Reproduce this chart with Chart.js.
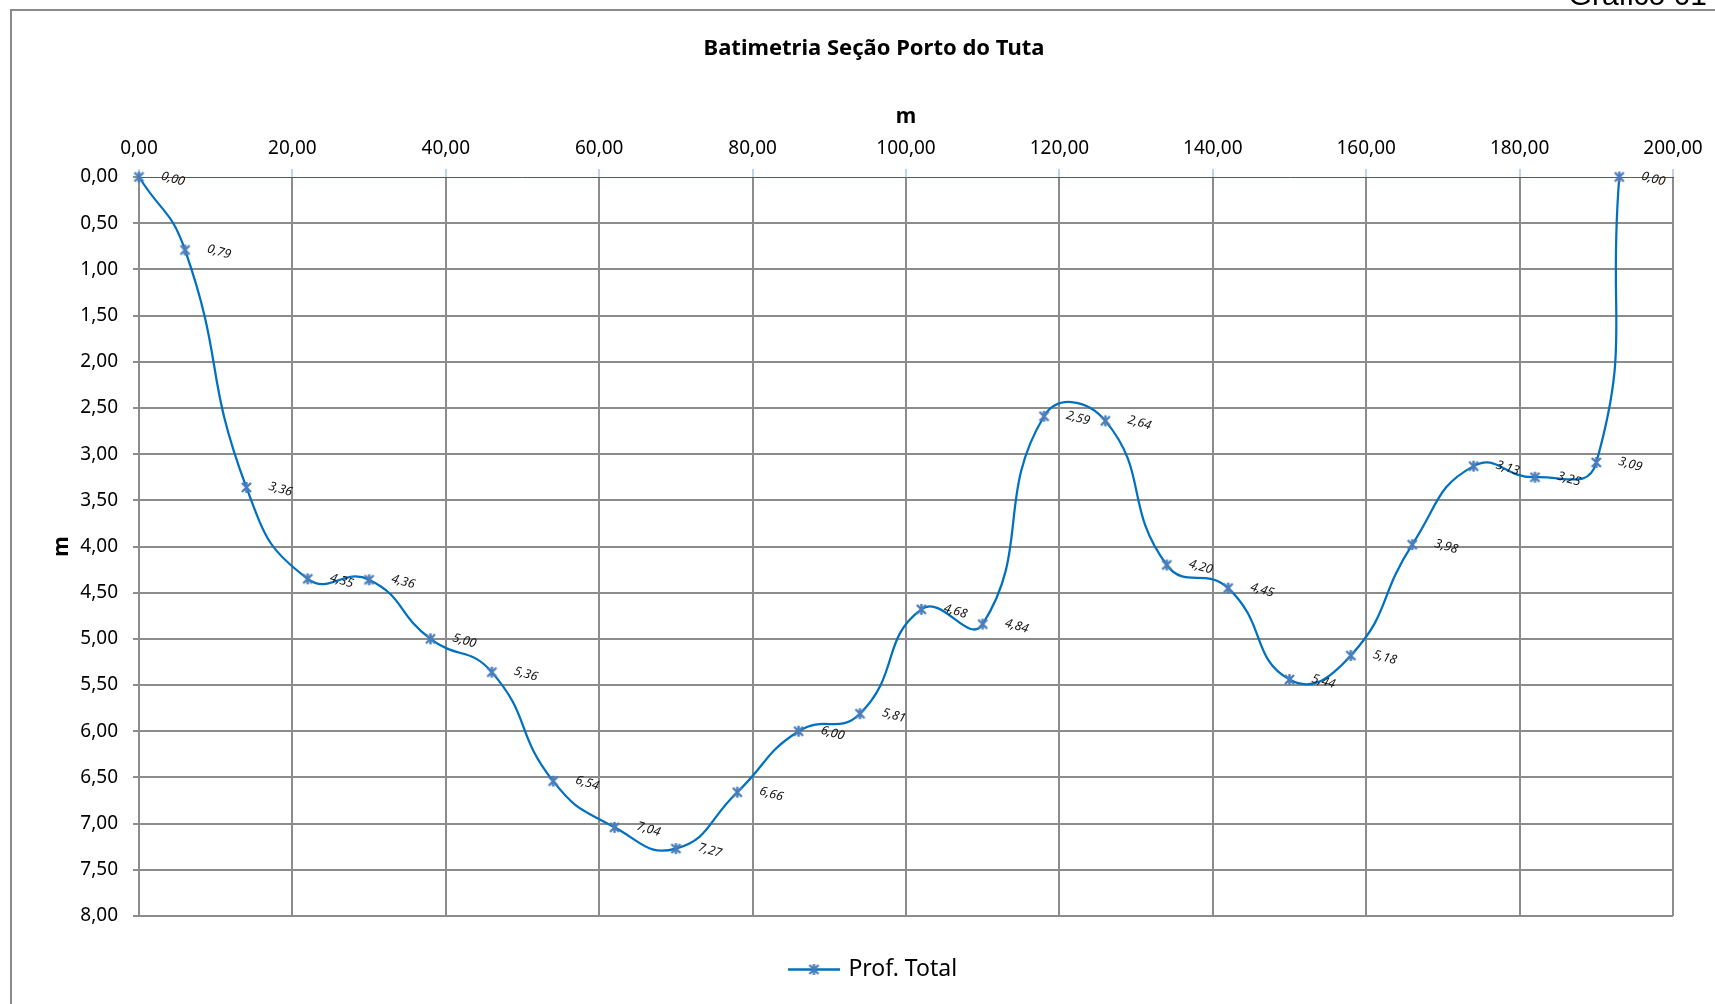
<!DOCTYPE html>
<html lang="pt-BR">
<head>
<meta charset="utf-8">
<title>Batimetria Seção Porto do Tuta</title>
<script src="https://cdn.jsdelivr.net/npm/chart.js@4.4.1/dist/chart.umd.min.js"></script>
<style>
  html, body { margin: 0; padding: 0; background: #ffffff; }
  #wrap { width: 1715px; height: 1004px; position: relative; }
</style>
</head>
<body>
<div id="wrap"><canvas id="chart" width="1715" height="1004"></canvas></div>
<script>
// Distância ao longo da seção (m)
const distances = [0, 6, 14, 22, 30, 38, 46, 54, 62, 70, 78, 86, 94, 102, 110, 118, 126, 134, 142, 150, 158, 166, 174, 182, 190, 193];
// Profundidade total medida em cada vertical (m)
const depths = [0.00, 0.79, 3.36, 4.35, 4.36, 5.00, 5.36, 6.54, 7.04, 7.27, 6.66, 6.00, 5.81, 4.68, 4.84, 2.59, 2.64, 4.20, 4.45, 5.44, 5.18, 3.98, 3.13, 3.25, 3.09, 0.00];
// Rótulos dos eixos
const xTickValues = [0, 20, 40, 60, 80, 100, 120, 140, 160, 180, 200];
const xTickLabels = ['0,00', '20,00', '40,00', '60,00', '80,00', '100,00', '120,00', '140,00', '160,00', '180,00', '200,00'];
const yTickValues = [0, 0.5, 1, 1.5, 2, 2.5, 3, 3.5, 4, 4.5, 5, 5.5, 6, 6.5, 7, 7.5, 8];
const yTickLabels = ['0,00', '0,50', '1,00', '1,50', '2,00', '2,50', '3,00', '3,50', '4,00', '4,50', '5,00', '5,50', '6,00', '6,50', '7,00', '7,50', '8,00'];
const seriesName = 'Prof. Total';
const chartTitle = 'Batimetria Seção Porto do Tuta';
const cornerText = 'Gráfico 01';

const fmt = v => v.toFixed(2).replace('.', ',');
const labelFor = (values, labels, v) => {
  const i = values.findIndex(t => Math.abs(t - v) < 1e-9);
  return i >= 0 ? labels[i] : '';
};

const LINE = '#0070c0';
const MARK = '#4a7ebb';
const GRID = '#8c8c8c';
const FONT = '"Noto Sans", "Open Sans", sans-serif';

// Marcador em forma de asterisco
function makeStar(size) {
  const c = document.createElement('canvas');
  c.width = size; c.height = size;
  const g = c.getContext('2d');
  const m = size / 2, r = size / 2 - 1;
  g.strokeStyle = MARK;
  g.lineWidth = 2.4;
  g.lineCap = 'butt';
  g.beginPath();
  g.moveTo(m - r * 0.82, m - r * 0.82); g.lineTo(m + r * 0.82, m + r * 0.82);
  g.moveTo(m + r * 0.82, m - r * 0.82); g.lineTo(m - r * 0.82, m + r * 0.82);
  g.moveTo(m, m - r); g.lineTo(m, m + r);
  g.stroke();
  return c;
}
const starMarker = makeStar(13);

// Amostra da legenda: linha com o marcador ao centro
function makeLegendSwatch(w, h) {
  const c = document.createElement('canvas');
  c.width = w; c.height = h;
  const g = c.getContext('2d');
  g.strokeStyle = LINE;
  g.lineWidth = 2.5;
  g.beginPath();
  g.moveTo(0, h / 2); g.lineTo(w, h / 2);
  g.stroke();
  g.drawImage(starMarker, (w - starMarker.width) / 2, (h - starMarker.height) / 2);
  return c;
}
const legendSwatch = makeLegendSwatch(52, 13);

const points = distances.map((x, i) => ({ x: x, y: depths[i] }));

// Moldura e texto do canto
const framePlugin = {
  id: 'frame',
  beforeDraw(chart) {
    const ctx = chart.ctx;
    ctx.save();
    ctx.fillStyle = '#ffffff';
    ctx.fillRect(0, 0, chart.width, chart.height);
    ctx.strokeStyle = '#8a8a8a';
    ctx.lineWidth = 2;
    ctx.strokeRect(11, 10, chart.width + 100, chart.height + 100);
    ctx.fillStyle = '#000000';
    ctx.font = '30px "Liberation Sans", Arial, sans-serif';
    ctx.textAlign = 'right';
    ctx.textBaseline = 'alphabetic';
    ctx.fillText(cornerText, 1707, 5);
    ctx.restore();
  }
};

// Rótulos de valor inclinados ao lado de cada ponto
const valueLabels = {
  id: 'valueLabels',
  afterDatasetsDraw(chart) {
    const ctx = chart.ctx;
    const meta = chart.getDatasetMeta(0);
    const values = chart.data.datasets[0].data;
    ctx.save();
    ctx.fillStyle = '#111111';
    ctx.font = 'italic 12.5px ' + FONT;
    ctx.textAlign = 'center';
    ctx.textBaseline = 'middle';
    meta.data.forEach((el, i) => {
      ctx.save();
      ctx.translate(el.x + 34, el.y + 2);
      ctx.rotate(16 * Math.PI / 180);
      ctx.fillText(fmt(values[i].y), 0, 0);
      ctx.restore();
    });
    ctx.restore();
  }
};

new Chart(document.getElementById('chart'), {
  type: 'line',
  data: {
    datasets: [{
      label: seriesName,
      data: points,
      borderColor: LINE,
      backgroundColor: LINE,
      borderWidth: 2.25,
      tension: 0.5,
      fill: false,
      clip: false,
      pointStyle: starMarker,
      pointRadius: 5,
      pointHoverRadius: 5
    }]
  },
  options: {
    responsive: false,
    devicePixelRatio: 1,
    animation: false,
    events: [],
    layout: { padding: { left: 33, right: 0, top: 0, bottom: 13 } },
    plugins: {
      title: {
        display: true,
        text: chartTitle,
        color: '#000000',
        font: { family: FONT, size: 22, weight: 'bold', lineHeight: 1.2 },
        padding: { top: 36, bottom: 0 }
      },
      legend: {
        display: true,
        position: 'bottom',
        title: { display: true, text: '', font: { size: 10, lineHeight: 1 }, padding: { top: 22, bottom: 0 } },
        labels: {
          usePointStyle: true,
          pointStyleWidth: 46,
          padding: 10,
          color: '#000000',
          font: { family: FONT, size: 23 },
          generateLabels(chart) {
            return chart.data.datasets.map((ds, i) => ({
              text: ds.label,
              fontColor: '#000000',
              pointStyle: legendSwatch,
              fillStyle: LINE,
              strokeStyle: LINE,
              lineWidth: 0,
              hidden: false,
              datasetIndex: i
            }));
          }
        }
      },
      tooltip: { enabled: false }
    },
    scales: {
      x: {
        type: 'linear',
        position: 'top',
        min: 0,
        max: 200,
        afterFit(scale) { scale.height = 114.6; scale.paddingRight = 42; },
        ticks: {
          stepSize: 20,
          padding: 9,
          color: '#000000',
          font: { family: FONT, size: 19 },
          callback: v => labelFor(xTickValues, xTickLabels, v)
        },
        grid: {
          color: GRID,
          lineWidth: 2,
          drawTicks: true,
          tickLength: 8,
          tickColor: '#7fa9d8',
          tickWidth: 1
        },
        border: { display: true, color: LINE, width: 1 },
        title: {
          display: true,
          text: 'm',
          color: '#000000',
          font: { family: FONT, size: 21, weight: 'bold', lineHeight: 1.2 },
          padding: { top: 42, bottom: 0 }
        }
      },
      y: {
        type: 'linear',
        position: 'left',
        reverse: true,
        min: 0,
        max: 8,
        afterFit(scale) { scale.width = 106; },
        ticks: {
          stepSize: 0.5,
          padding: 15,
          color: '#000000',
          font: { family: FONT, size: 19 },
          callback: v => labelFor(yTickValues, yTickLabels, v)
        },
        grid: {
          color: ctx => (ctx.tick && ctx.tick.value === 0) ? 'rgba(0,0,0,0)' : GRID,
          lineWidth: 2,
          drawTicks: true,
          tickLength: 6,
          tickColor: GRID,
          tickWidth: 2
        },
        border: { display: true, color: GRID, width: 2 },
        title: {
          display: true,
          text: 'm',
          color: '#000000',
          font: { family: FONT, size: 21, weight: 'bold', lineHeight: 1.2 },
          padding: { top: 16, bottom: 0 }
        }
      }
    }
  },
  plugins: [framePlugin, valueLabels]
});
</script>
</body>
</html>
